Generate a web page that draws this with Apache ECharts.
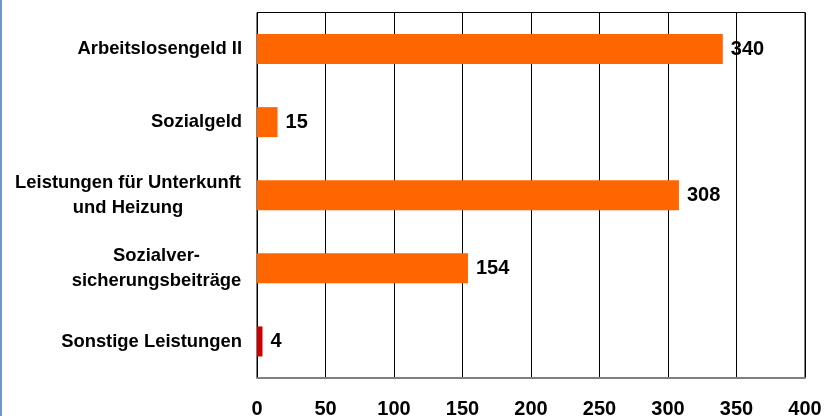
<!DOCTYPE html>
<html><head><meta charset="utf-8">
<script src="https://cdn.jsdelivr.net/npm/echarts@6/dist/echarts.min.js"></script>
<style>html,body{margin:0;padding:0;background:#fff}#c{width:825px;height:416px}</style>
</head><body><div id="c"></div>
<script>
const categories = ['Arbeitslosengeld II','Sozialgeld','Leistungen für Unterkunft\nund Heizung','Sozialver-\nsicherungsbeiträge','Sonstige Leistungen'];
const values = [340, 15, 308, 154, 4];
const barColors = ['#FF6600','#FF6600','#FF6600','#FF6600','#CC0000'];
const xTicks = [0,50,100,150,200,250,300,350,400];

const chart = echarts.init(document.getElementById('c'), null, {renderer:'canvas'});
const font = 'Liberation Sans, Arial, sans-serif';
const fs = 18.4;
chart.setOption({
  animation:false,
  grid:{left:257,right:20,top:12.5,bottom:38,outerBoundsMode:'none',containLabel:false,show:true,borderColor:'#000',borderWidth:1},
  graphic:[{type:'line',shape:{x1:1,y1:0,x2:1,y2:416},style:{stroke:'#7096c8',lineWidth:2}}],
  xAxis:{type:'value',min:xTicks[0],max:xTicks[xTicks.length-1],interval:50,
    axisLine:{show:true,lineStyle:{color:'#808080',width:2}},axisTick:{show:false},
    splitLine:{show:true,lineStyle:{color:'#000',width:1}},
    axisLabel:{margin:21,color:'#000',fontWeight:'bold',fontSize:20,fontFamily:font,lineHeight:20}},
  yAxis:{type:'category',inverse:true,data:categories,
    axisLine:{show:true,lineStyle:{color:'#000',width:1}},axisTick:{show:false},
    axisLabel:{margin:15,color:'#000',fontWeight:'bold',fontSize:fs,fontFamily:font,lineHeight:25,
      formatter:function(v){
        const lines=v.split('\n');
        if(lines.length===1) return v;
        const key = lines[0].indexOf('Leistungen')===0 ? 'a' : 'b';
        return lines.map(l=>'{'+key+'|'+l+'}').join('\n');
      },
      rich:{
        a:{width:228,align:'center',fontWeight:'bold',fontSize:fs,fontFamily:font,color:'#000',lineHeight:25},
        b:{width:171,align:'center',fontWeight:'bold',fontSize:fs,fontFamily:font,color:'#000',lineHeight:25}
      }}},
  series:[{type:'bar',data:values.map((v,i)=>({value:v,itemStyle:{color:barColors[i]}})),
    barWidth:30,
    label:{show:true,position:'right',distance:8,color:'#000',fontWeight:'bold',fontSize:20,fontFamily:font}}]
});
</script></body></html>
